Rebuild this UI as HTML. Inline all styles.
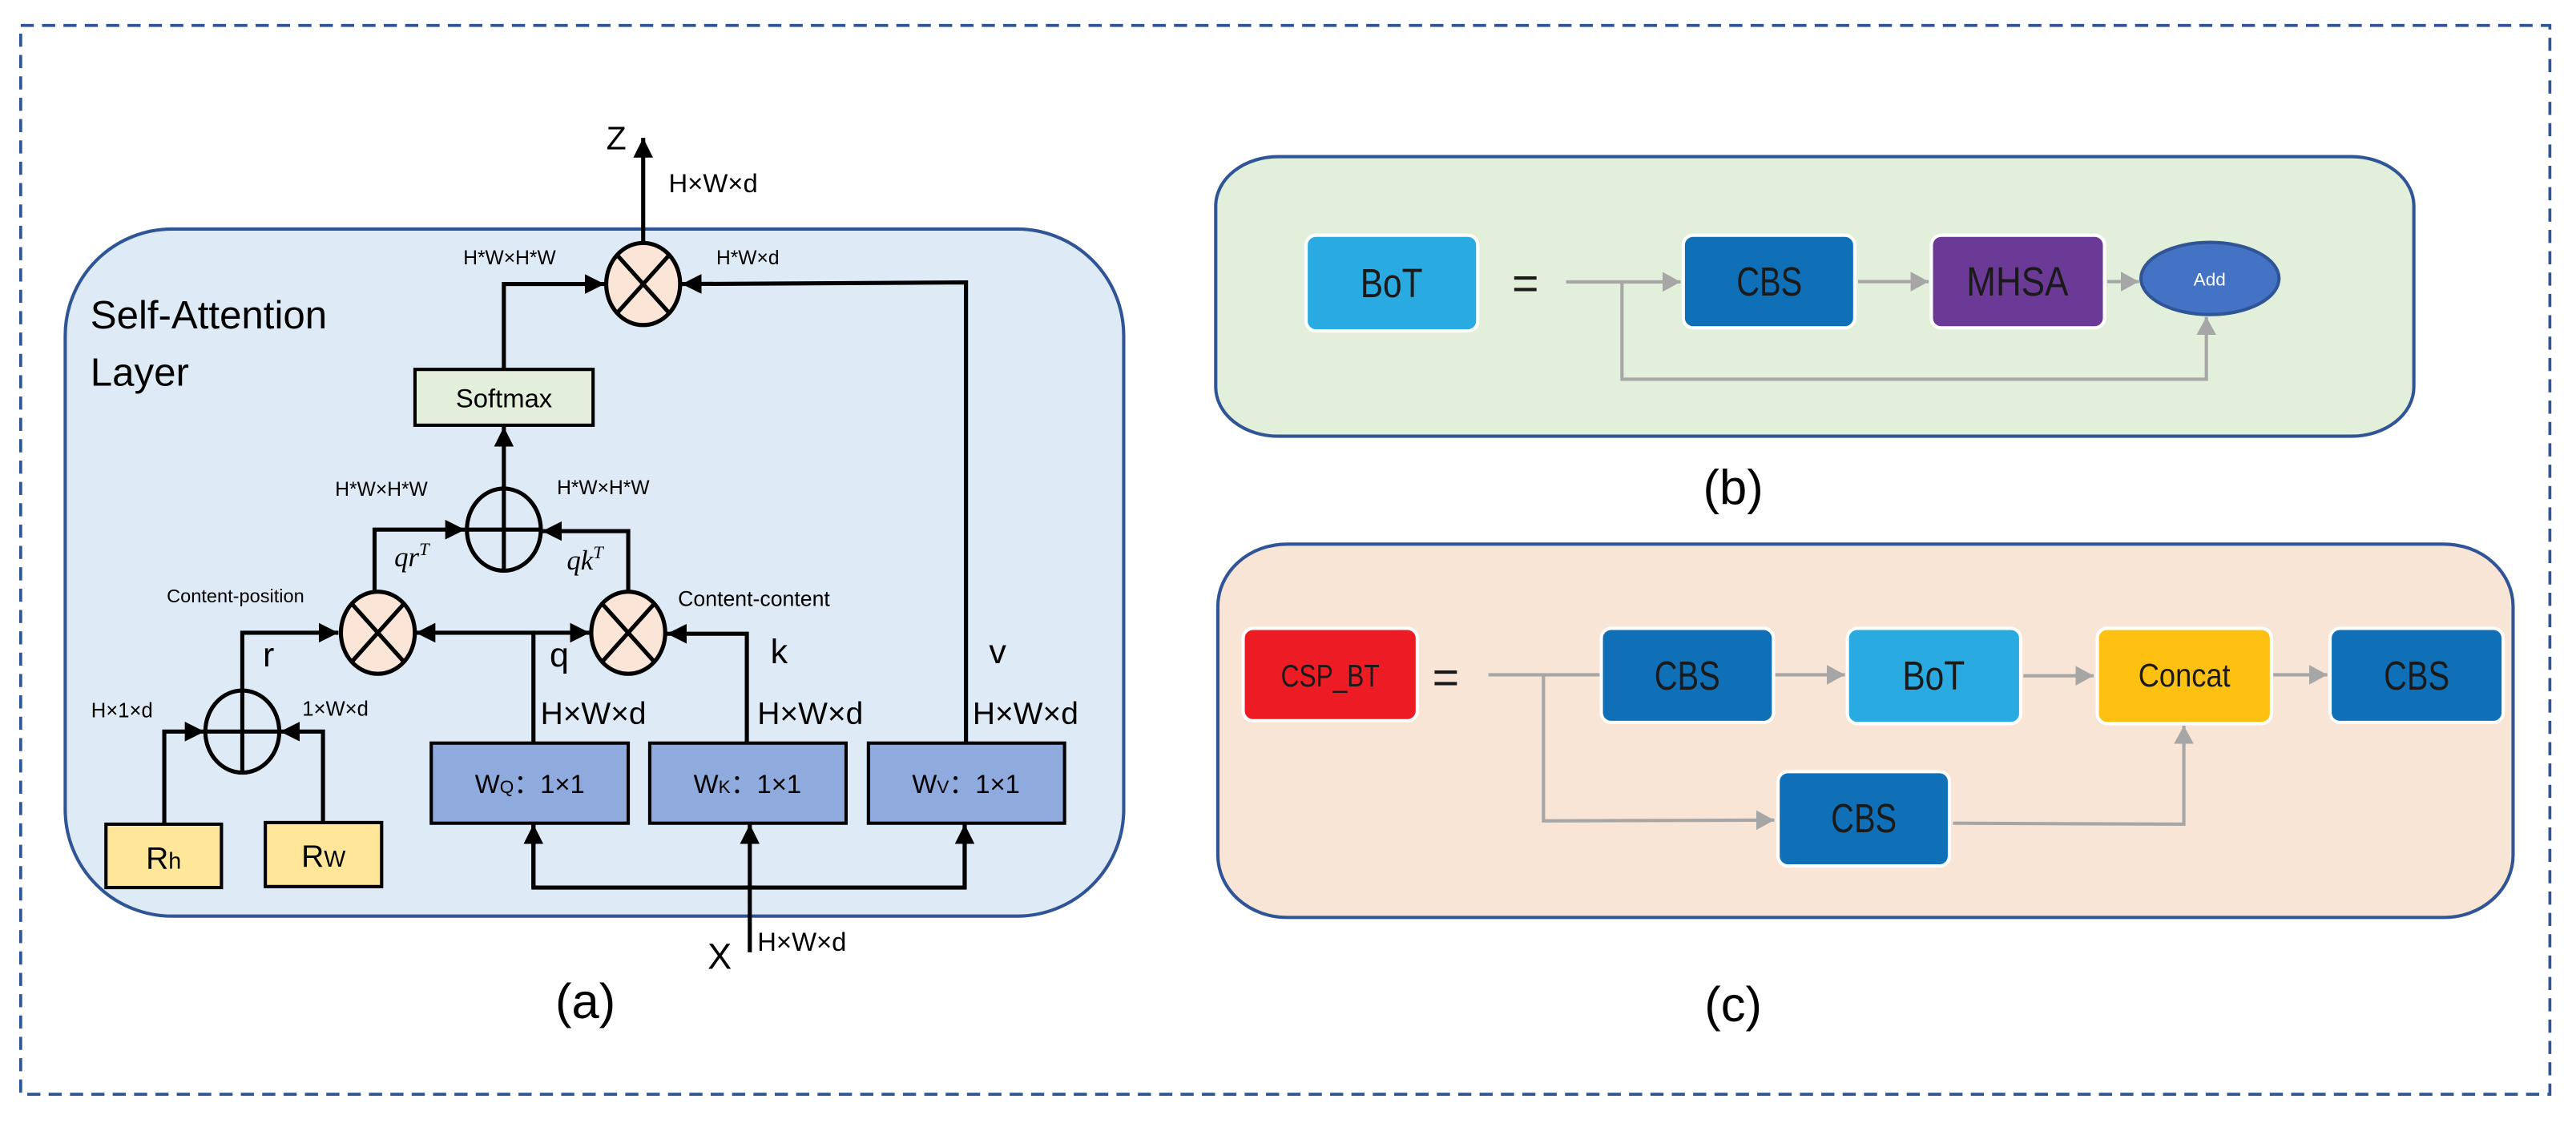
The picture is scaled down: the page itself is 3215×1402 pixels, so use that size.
<!DOCTYPE html>
<html><head><meta charset="utf-8"><style>html,body{margin:0;padding:0;background:#fff}svg{display:block}</style></head>
<body>
<svg width="3215" height="1402" viewBox="0 0 1568 684" preserveAspectRatio="none" xmlns="http://www.w3.org/2000/svg">
<defs>
<marker id="ab" markerUnits="userSpaceOnUse" markerWidth="14" markerHeight="12" refX="12" refY="6" orient="auto"><path d="M0,0 L12,6 L0,12 z" fill="#000"/></marker>
<marker id="ag" markerUnits="userSpaceOnUse" markerWidth="12" markerHeight="12" refX="11" refY="6" orient="auto"><path d="M0,0 L11,6 L0,12 z" fill="#a6a6a6"/></marker>
</defs>
<rect x="12.6" y="15.5" width="1539.5" height="651" fill="none" stroke="#2f5597" stroke-width="1.8" stroke-dasharray="8,5"/>

<!-- (a) -->
<rect x="39.7" y="139.5" width="644.3" height="418.5" rx="65" ry="65" fill="#deebf6" stroke="#2f5597" stroke-width="2"/>
<g font-family="Liberation Sans, sans-serif" fill="#000">
<text x="55" y="200" font-size="24">Self-Attention</text>
<text x="55" y="235" font-size="24">Layer</text>
</g>
<g stroke="#000" stroke-width="2.5" fill="none">
<line x1="391.5" y1="148" x2="391.5" y2="84" marker-end="url(#ab)"/>
<polyline points="306.7,225 306.7,173 368,173" marker-end="url(#ab)"/>
<polyline points="588,453 588,172 415,173" marker-end="url(#ab)"/>
<line x1="306.7" y1="298" x2="306.7" y2="260" marker-end="url(#ab)"/>
<polyline points="228,360 228,322.6 283,322.6" marker-end="url(#ab)"/>
<polyline points="382.4,360 382.4,323.5 330,323.5" marker-end="url(#ab)"/>
<polyline points="324.7,452.6 324.7,385.4 253,385.4" marker-end="url(#ab)"/>
<line x1="324.7" y1="385.4" x2="359" y2="385.4" marker-end="url(#ab)"/>
<polyline points="454.6,452.6 454.6,386 406,386" marker-end="url(#ab)"/>
<polyline points="147.5,421 147.5,385.4 206,385.4" marker-end="url(#ab)"/>
<polyline points="100,502 100,445.6 124.5,445.6" marker-end="url(#ab)"/>
<polyline points="196.6,501 196.6,445.6 170.5,445.6" marker-end="url(#ab)"/>
<line x1="456.4" y1="580" x2="456.4" y2="502" marker-end="url(#ab)"/>
<polyline points="324.7,502 324.7,540.6 587.2,540.6 587.2,502"/>
<line x1="324.7" y1="540.6" x2="324.7" y2="502" marker-end="url(#ab)"/>
<line x1="587.2" y1="540.6" x2="587.2" y2="502" marker-end="url(#ab)"/>
</g>
<g stroke="#000" stroke-width="2.5">
<ellipse cx="391.5" cy="173" rx="22.5" ry="25" fill="#fbe5d6"/>
<line x1="375.6" y1="155.3" x2="407.4" y2="190.7"/><line x1="407.4" y1="155.3" x2="375.6" y2="190.7"/>
<ellipse cx="230" cy="385.4" rx="22.5" ry="25" fill="#fbe5d6"/>
<line x1="214.1" y1="367.7" x2="245.9" y2="403.1"/><line x1="245.9" y1="367.7" x2="214.1" y2="403.1"/>
<ellipse cx="382.4" cy="385.4" rx="22.5" ry="25" fill="#fbe5d6"/>
<line x1="366.5" y1="367.7" x2="398.3" y2="403.1"/><line x1="398.3" y1="367.7" x2="366.5" y2="403.1"/>
<ellipse cx="306.7" cy="322.6" rx="22.5" ry="25" fill="none"/>
<line x1="306.7" y1="297.6" x2="306.7" y2="347.6"/><line x1="284.2" y1="322.6" x2="329.2" y2="322.6"/>
<ellipse cx="147.5" cy="445.6" rx="22.5" ry="25" fill="none"/>
<line x1="147.5" y1="420.6" x2="147.5" y2="470.6"/><line x1="125" y1="445.6" x2="170" y2="445.6"/>
</g>
<g stroke="#000" stroke-width="2">
<rect x="252.6" y="225" width="108.4" height="34" fill="#e2efda"/>
<rect x="262.5" y="452.6" width="119.9" height="48.8" fill="#8faadc"/>
<rect x="395.5" y="452.6" width="119.5" height="48.8" fill="#8faadc"/>
<rect x="528.6" y="452.6" width="119.4" height="48.8" fill="#8faadc"/>
<rect x="64.5" y="502" width="70.3" height="38.6" fill="#ffe699"/>
<rect x="161.5" y="501" width="70.8" height="39" fill="#ffe699"/>
</g>
<g font-family="Liberation Sans, sans-serif" fill="#000">
<text x="306.8" y="248" font-size="16" text-anchor="middle">Softmax</text>
<text x="322.5" y="483" font-size="16" text-anchor="middle">W<tspan font-size="11">Q</tspan>：1×1</text>
<text x="455" y="483" font-size="16" text-anchor="middle">W<tspan font-size="11">K</tspan>：1×1</text>
<text x="588" y="483" font-size="16" text-anchor="middle">W<tspan font-size="11">V</tspan>：1×1</text>
<text x="99.6" y="529" font-size="19" text-anchor="middle">R<tspan font-size="14">h</tspan></text>
<text x="196.9" y="528" font-size="19" text-anchor="middle">R<tspan font-size="14">W</tspan></text>
<text x="369" y="91" font-size="20">Z</text>
<text x="407" y="117" font-size="16">H×W×d</text>
<text x="282" y="161" font-size="12">H*W×H*W</text>
<text x="436" y="161" font-size="12">H*W×d</text>
<text x="204" y="302" font-size="12">H*W×H*W</text>
<text x="339" y="301" font-size="12">H*W×H*W</text>
<text x="101.5" y="367" font-size="11.5">Content-position</text>
<text x="412.7" y="369" font-size="13">Content-content</text>
<text x="160" y="406" font-size="21">r</text>
<text x="334.6" y="406" font-size="21">q</text>
<text x="469" y="404" font-size="21">k</text>
<text x="602" y="404" font-size="21">v</text>
<text x="329" y="441" font-size="19">H×W×d</text>
<text x="461" y="441" font-size="19">H×W×d</text>
<text x="592" y="441" font-size="19">H×W×d</text>
<text x="55.5" y="437" font-size="12.5">H×1×d</text>
<text x="184" y="436" font-size="12.5">1×W×d</text>
<text x="430.7" y="590" font-size="22">X</text>
<text x="461" y="579" font-size="16">H×W×d</text>
<text x="338" y="620" font-size="30">(a)</text>
</g>
<g font-family="Liberation Serif, serif" font-style="italic" font-size="17" fill="#000">
<text x="240" y="345">qr<tspan dy="-7" font-size="11">T</tspan></text>
<text x="345" y="347">qk<tspan dy="-7" font-size="11">T</tspan></text>
</g>

<!-- (b) -->
<rect x="740" y="95.4" width="729.3" height="170.3" rx="38" ry="30" fill="#e2efda" stroke="#2f5597" stroke-width="2"/>
<g stroke="#fff" stroke-width="2">
<rect x="795" y="143.3" width="104.5" height="58.2" rx="6" fill="#29abe2"/>
<rect x="1024.6" y="143.3" width="104.4" height="56.4" rx="6" fill="#0f70b7"/>
<rect x="1175.6" y="143.3" width="105.4" height="56.4" rx="6" fill="#6b3a96"/>
</g>
<ellipse cx="1345.2" cy="169.6" rx="42" ry="22" fill="#4472c4" stroke="#2f5597" stroke-width="2"/>
<g stroke="#a6a6a6" stroke-width="2" fill="none">
<line x1="953.3" y1="171.7" x2="1023" y2="171.7" marker-end="url(#ag)"/>
<polyline points="987.3,171.7 987.3,231 1343,231 1343,193" marker-end="url(#ag)"/>
<line x1="1131" y1="171.5" x2="1174" y2="171.5" marker-end="url(#ag)"/>
<line x1="1282.6" y1="171.5" x2="1302" y2="171.5" marker-end="url(#ag)"/>
</g>
<g font-family="Liberation Sans Narrow, Liberation Sans, sans-serif" fill="#1a1a1a" text-anchor="middle">
<text x="847" y="181" font-size="25" textLength="38" lengthAdjust="spacingAndGlyphs">BoT</text>
<text x="1077" y="180" font-size="25" textLength="40" lengthAdjust="spacingAndGlyphs">CBS</text>
<text x="1228" y="180" font-size="25" textLength="62" lengthAdjust="spacingAndGlyphs">MHSA</text>
<text x="1345" y="174" font-size="11" fill="#fff">Add</text>
<text x="928.5" y="182" font-size="28">=</text>
</g>
<text x="1055" y="307" font-family="Liberation Sans, sans-serif" font-size="30" text-anchor="middle">(b)</text>

<!-- (c) -->
<rect x="741.3" y="331.4" width="788.4" height="227.4" rx="42" ry="38" fill="#f8e5d6" stroke="#2f5597" stroke-width="2"/>
<g stroke="#a6a6a6" stroke-width="2" fill="none">
<line x1="906" y1="411" x2="974.7" y2="411"/>
<polyline points="939.5,411 939.5,500 1080,499.5" marker-end="url(#ag)"/>
<line x1="1080.6" y1="411" x2="1123" y2="411" marker-end="url(#ag)"/>
<line x1="1231.6" y1="411.6" x2="1274.4" y2="411.6" marker-end="url(#ag)"/>
<line x1="1383.7" y1="411" x2="1416.6" y2="411" marker-end="url(#ag)"/>
<polyline points="1188.8,501.4 1329.3,502 1329.3,442" marker-end="url(#ag)"/>
</g>
<g stroke="#fff" stroke-width="2">
<rect x="756.7" y="382.7" width="106" height="56.3" rx="6" fill="#ed1c24"/>
<rect x="974.7" y="382.7" width="104.8" height="57.3" rx="6" fill="#0f70b7"/>
<rect x="1124.5" y="382.7" width="105.5" height="58" rx="6" fill="#29abe2"/>
<rect x="1276.6" y="382.7" width="106" height="58" rx="6" fill="#fec011"/>
<rect x="1418.3" y="382.7" width="105.4" height="57.3" rx="6" fill="#0f70b7"/>
<rect x="1082.3" y="470" width="104.3" height="57.4" rx="6" fill="#0f70b7"/>
</g>
<g font-family="Liberation Sans Narrow, Liberation Sans, sans-serif" fill="#1a1a1a" text-anchor="middle">
<text x="809.7" y="418" font-size="19" textLength="60" lengthAdjust="spacingAndGlyphs">CSP_BT</text>
<text x="1027" y="420" font-size="25" textLength="40" lengthAdjust="spacingAndGlyphs">CBS</text>
<text x="1177" y="420" font-size="25" textLength="38" lengthAdjust="spacingAndGlyphs">BoT</text>
<text x="1329.6" y="418" font-size="20" textLength="56" lengthAdjust="spacingAndGlyphs">Concat</text>
<text x="1471" y="420" font-size="25" textLength="40" lengthAdjust="spacingAndGlyphs">CBS</text>
<text x="1134.5" y="507" font-size="25" textLength="40" lengthAdjust="spacingAndGlyphs">CBS</text>
<text x="880" y="422" font-size="28">=</text>
</g>
<text x="1055" y="622" font-family="Liberation Sans, sans-serif" font-size="30" text-anchor="middle">(c)</text>
</svg>
</body></html>
